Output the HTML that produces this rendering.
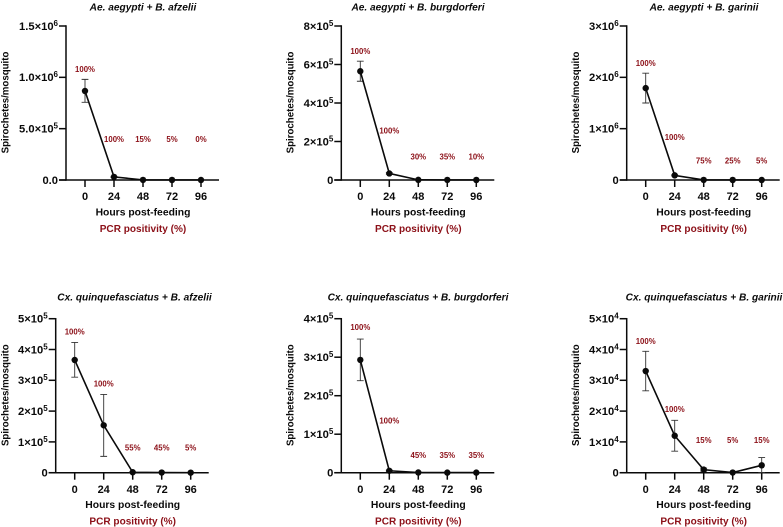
<!DOCTYPE html>
<html lang="en">
<head>
<meta charset="utf-8">
<title>Spirochetes per mosquito over time</title>
<style>
html,body{margin:0;padding:0;background:#fff;width:783px;height:527px;overflow:hidden}
svg{display:block;font-family:"Liberation Sans",Arial,sans-serif}
</style>
</head>
<body>
<svg id="chart" width="783" height="527" viewBox="0 0 783 527" xmlns="http://www.w3.org/2000/svg"></svg>
<script>
const hours = [0, 24, 48, 72, 96];
const panelTitles = [
  "Ae. aegypti + B. afzelii",
  "Ae. aegypti + B. burgdorferi",
  "Ae. aegypti + B. garinii",
  "Cx. quinquefasciatus + B. afzelii",
  "Cx. quinquefasciatus + B. burgdorferi",
  "Cx. quinquefasciatus + B. garinii"
];
const yTickValues = [
  [0, 5e5, 1e6, 1.5e6],
  [0, 2e5, 4e5, 6e5, 8e5],
  [0, 1e6, 2e6, 3e6],
  [0, 1e5, 2e5, 3e5, 4e5, 5e5],
  [0, 1e5, 2e5, 3e5, 4e5],
  [0, 1e4, 2e4, 3e4, 4e4, 5e4]
];
const yTickMantissas = [
  ["0.0", "5.0", "1.0", "1.5"],
  ["0", "2", "4", "6", "8"],
  ["0", "1", "2", "3"],
  ["0", "1", "2", "3", "4", "5"],
  ["0", "1", "2", "3", "4"],
  ["0", "1", "2", "3", "4", "5"]
];
const yTickExponents = [
  ["", "5", "6", "6"],
  ["", "5", "5", "5", "5"],
  ["", "6", "6", "6"],
  ["", "5", "5", "5", "5", "5"],
  ["", "5", "5", "5", "5"],
  ["", "4", "4", "4", "4", "4"]
];
const meanValues = [
  [8.67e5, 3.0e4, 1000, 500, 300],
  [5.65e5, 3.4e4, 800, 500, 300],
  [1.79e6, 9.0e4, 2000, 1000, 500],
  [3.66e5, 1.54e5, 1500, 500, 200],
  [2.93e5, 5000, 500, 300, 300],
  [3.3e4, 1.2e4, 1000, 50, 2400]
];
const errorUpper = [
  [9.8e5, 3.6e4, 1500, 800, 500],
  [6.17e5, 3.8e4, 1200, 800, 500],
  [2.08e6, 1.0e5, 3000, 1500, 800],
  [4.23e5, 2.54e5, 2500, 800, 400],
  [3.47e5, 6500, 800, 500, 500],
  [3.94e4, 1.7e4, 1500, 100, 4900]
];
const errorLower = [
  [7.57e5, 2.4e4, 500, 200, 100],
  [5.13e5, 3.0e4, 400, 200, 100],
  [1.5e6, 8.0e4, 1000, 500, 200],
  [3.1e5, 5.3e4, 500, 200, 0],
  [2.39e5, 3500, 200, 100, 100],
  [2.66e4, 7000, 500, 0, 0]
];
const pcrPositivity = [
  ["100%", "100%", "15%", "5%", "0%"],
  ["100%", "100%", "30%", "35%", "10%"],
  ["100%", "100%", "75%", "25%", "5%"],
  ["100%", "100%", "55%", "45%", "5%"],
  ["100%", "100%", "45%", "35%", "35%"],
  ["100%", "100%", "15%", "5%", "15%"]
];
const pcrLabelLevels = [
  [1.076e6, 3.95e5, 3.95e5, 3.95e5, 3.95e5],
  [6.69e5, 2.54e5, 1.21e5, 1.21e5, 1.21e5],
  [2.27e6, 8.3e5, 3.76e5, 3.76e5, 3.76e5],
  [4.57e5, 2.89e5, 8.1e4, 8.1e4, 8.1e4],
  [3.78e5, 1.34e5, 4.5e4, 4.5e4, 4.5e4],
  [4.27e4, 2.05e4, 1.05e4, 1.05e4, 1.05e4]
];

const NS = "http://www.w3.org/2000/svg";
const root = document.getElementById("chart");
const RED = "#8c1018";
const INK = "#0a0a0a";

function make(tag, parent, props, text) {
  const node = document.createElementNS(NS, tag);
  for (const key in props) node.setAttribute(key, props[key]);
  if (text !== undefined) node.textContent = text;
  parent.appendChild(node);
  return node;
}

function frameFor(i) {
  const col = i % 3;
  const row = Math.floor(i / 3);
  const zeros = i === 3 ? 74.7 : [85, 360.3, 645.7][col];
  return {
    x0: zeros,
    top: row === 0 ? 26 : 318.7,
    bottom: row === 0 ? 180 : 472.7,
    titleX: [143, 418, 704, 134.5, 418, 704][i],
    titleY: row === 0 ? 10.4 : 300.4,
    yTitleX: [8.5, 293.6, 578.8][col]
  };
}

panelTitles.forEach(function (title, i) {
  const f = frameFor(i);
  const ticks = yTickValues[i];
  const yMax = ticks[ticks.length - 1];
  const xScale = function (h) { return f.x0 + (h / 24) * 29; };
  const yScale = function (v) { return f.bottom - (v / yMax) * (f.bottom - f.top); };
  const axisX = f.x0 - 19;
  const endX = f.x0 + 134;
  const midY = (f.top + f.bottom) / 2 - 0.5;

  const panel = make("g", root, {});
  
  

  const titleEl = make("text", panel, {x: f.titleX, y: f.titleY, "text-anchor": "middle", "font-size": 10.15, "font-weight": "bold", "font-style": "italic", fill: INK}, title);
  
  

  const yTitle = make("text", panel, {transform: "translate(" + f.yTitleX + " " + midY + ") rotate(-90)", "text-anchor": "middle", "font-size": 9.7, "font-weight": "bold", fill: INK}, "Spirochetes/mosquito");
  
  

  const yAxis = make("line", panel, {x1: axisX, x2: axisX, y1: f.top - 0.7, y2: f.bottom + 0.7, stroke: INK, "stroke-width": 1.5});
  
  

  const xAxis = make("line", panel, {x1: axisX - 7, x2: endX, y1: f.bottom, y2: f.bottom, stroke: INK, "stroke-width": 1.5});
  
  

  ticks.forEach(function (v, t) {
    const y = yScale(v);
    const tick = make("line", panel, {x1: axisX - 7, x2: axisX, y1: y, y2: y, stroke: INK, "stroke-width": 1.5});
    
    
    const label = make("text", panel, {x: axisX - 8, y: y + 3.9, "text-anchor": "end", "font-size": 11.2, "font-weight": "bold", fill: INK});
    
    
    const exp = yTickExponents[i][t];
    if (exp) {
      make("tspan", label, {}, yTickMantissas[i][t] + "\u00d710");
      make("tspan", label, {"font-size": 8, dy: -4}, exp);
    } else {
      make("tspan", label, {}, yTickMantissas[i][t]);
    }
  });

  hours.forEach(function (h) {
    const x = xScale(h);
    const tick = make("line", panel, {x1: x, x2: x, y1: f.bottom, y2: f.bottom + 7, stroke: INK, "stroke-width": 1.5});
    
    
    const label = make("text", panel, {x: x, y: f.bottom + 20.2, "text-anchor": "middle", "font-size": 11, "font-weight": "bold", fill: INK}, String(h));
    
    
  });

  const xTitle = make("text", panel, {x: f.x0 + 58, y: f.bottom + 35.4, "text-anchor": "middle", "font-size": 10.35, "font-weight": "bold", fill: INK}, "Hours post-feeding");
  
  

  const pcrTitle = make("text", panel, {x: f.x0 + 58, y: f.bottom + 52, "text-anchor": "middle", "font-size": 10.05, "font-weight": "bold", fill: RED}, "PCR positivity (%)");
  
  

  hours.forEach(function (h, k) {
    const x = xScale(h);
    const yU = yScale(errorUpper[i][k]);
    const yL = yScale(errorLower[i][k]);
    const bar = make("path", panel, {d: "M" + (x - 3.4) + " " + yU + "H" + (x + 3.4) + "M" + x + " " + yU + "V" + yL + "M" + (x - 3.4) + " " + yL + "H" + (x + 3.4), fill: "none", stroke: "#333", "stroke-width": 0.9});
    
    
  });

  const points = hours.map(function (h, k) { return xScale(h) + "," + yScale(meanValues[i][k]); }).join(" ");
  const line = make("polyline", panel, {points: points, fill: "none", stroke: INK, "stroke-width": 1.6});
  
  

  hours.forEach(function (h, k) {
    const dot = make("circle", panel, {cx: xScale(h), cy: yScale(meanValues[i][k]), r: 3.2, fill: INK});
    
    
    const pct = make("text", panel, {x: xScale(h), y: yScale(pcrLabelLevels[i][k]) + 2.6, "text-anchor": "middle", "font-size": 7.8, "font-weight": "bold", fill: RED}, pcrPositivity[i][k]);
    
    
  });
});
</script>
</body>
</html>
